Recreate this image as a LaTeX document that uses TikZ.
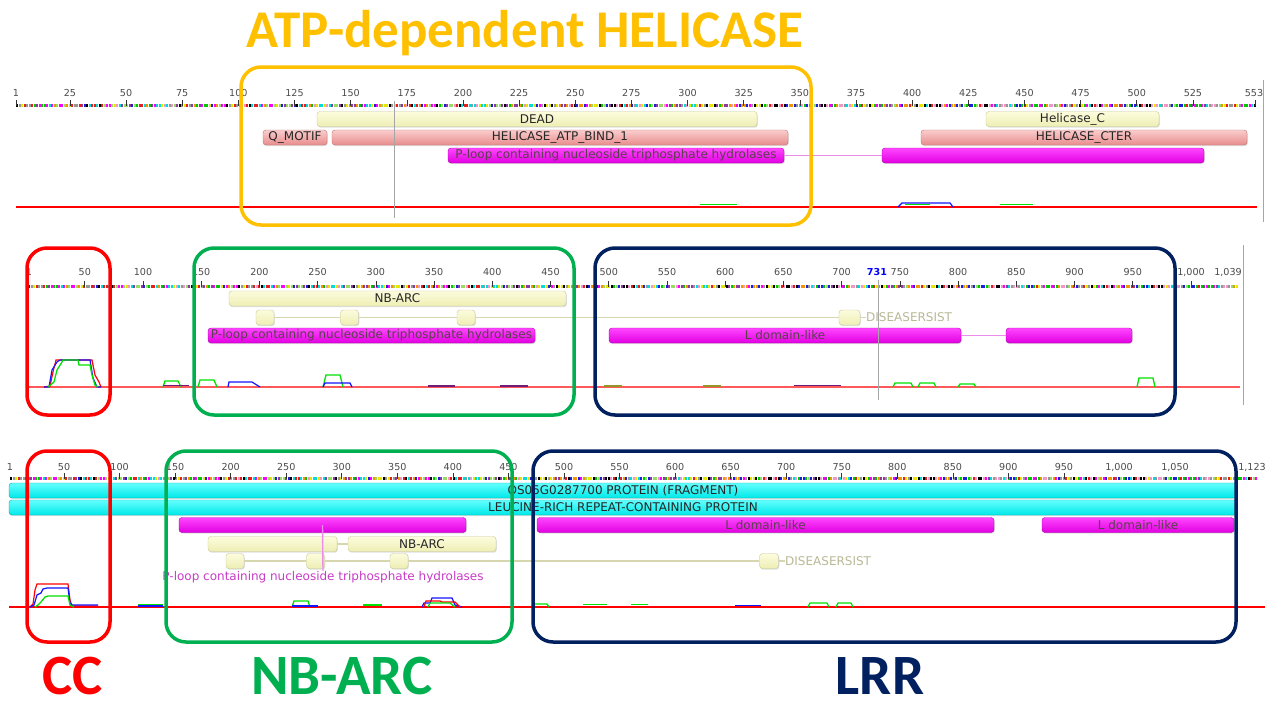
\documentclass[tikz,border=0pt]{standalone}
\usepackage{fontspec}
\setmainfont{DejaVu Sans}
\newfontfamily\barfont{DejaVu Sans}
\newfontfamily\slidefont{Carlito}
\usepackage{xcolor}
\definecolor{colorhel}{RGB}{255,192,0}
\definecolor{colorcc}{RGB}{255,0,0}
\definecolor{colornb}{RGB}{0,176,80}
\definecolor{colorlrr}{RGB}{0,32,96}
\definecolor{baryt}{RGB}{252,252,222}
\definecolor{baryb}{RGB}{238,238,180}
\definecolor{baryd}{RGB}{200,200,150}
\definecolor{barpt}{RGB}{250,205,205}
\definecolor{barpb}{RGB}{232,140,140}
\definecolor{barpd}{RGB}{190,115,115}
\definecolor{barmt}{RGB}{255,70,255}
\definecolor{barmb}{RGB}{225,0,225}
\definecolor{barmd}{RGB}{170,0,170}
\definecolor{barct}{RGB}{100,255,255}
\definecolor{barcb}{RGB}{0,232,232}
\definecolor{barcd}{RGB}{0,170,170}
\definecolor{linkm}{RGB}{235,140,235}
\definecolor{linky}{RGB}{215,215,175}
\definecolor{distxt}{RGB}{185,185,150}
\definecolor{plooptxt}{RGB}{200,60,200}
\definecolor{hydr}{RGB}{255,0,0}
\definecolor{hydg}{RGB}{0,225,0}
\definecolor{hydb}{RGB}{20,20,255}
\definecolor{hydp}{RGB}{110,30,120}
\definecolor{hydo}{RGB}{150,150,40}
\definecolor{seqc0}{RGB}{0,0,0}
\definecolor{seqc1}{RGB}{255,0,255}
\definecolor{seqc2}{RGB}{230,230,0}
\definecolor{seqc3}{RGB}{0,200,0}
\definecolor{seqc4}{RGB}{0,220,220}
\definecolor{seqc5}{RGB}{30,30,220}
\definecolor{seqc6}{RGB}{230,30,30}
\definecolor{seqc7}{RGB}{240,150,0}
\definecolor{seqc8}{RGB}{150,150,150}
\definecolor{seqc9}{RGB}{140,60,160}
\definecolor{seqc10}{RGB}{240,150,200}
\definecolor{seqc11}{RGB}{150,220,100}
\usepackage{tikz}
\usetikzlibrary{shadows}
\tikzstyle{featbar} = [rectangle, rounded corners=3pt, inner sep=0pt, minimum height=15pt, font=\barfont\fontsize{12}{12}\selectfont, text=black!85, drop shadow={opacity=0.25,shadow xshift=0.8pt,shadow yshift=-1.2pt}]
\tikzstyle{barY} = [featbar, draw=baryd, top color=baryt, bottom color=baryb]
\tikzstyle{barP} = [featbar, draw=barpd, top color=barpt, bottom color=barpb]
\tikzstyle{barM} = [featbar, draw=barmd, top color=barmt, bottom color=barmb, text=black!75!magenta]
\tikzstyle{barC} = [featbar, draw=barcd, top color=barct, bottom color=barcb]
\tikzstyle{sqY} = [barY, minimum width=18pt]
\tikzstyle{linkY} = [draw=linky, line width=1.2pt]
\tikzstyle{linkM} = [draw=linkm, line width=1.4pt]
\tikzstyle{disTxt} = [font=\barfont\fontsize{12}{12}\selectfont, text=distxt, inner sep=0pt]
\tikzstyle{ploopTxt} = [font=\barfont\fontsize{12}{12}\selectfont, text=plooptxt, inner sep=0pt]
\tikzstyle{rulerNum} = [font=\barfont\fontsize{9.6}{10}\selectfont, text=black!70, inner sep=0pt]
\tikzstyle{tick} = [draw=black!80, line width=0.6pt]
\tikzstyle{cursor} = [draw=black!35, line width=1pt]
\tikzstyle{baseR} = [draw=hydr, line width=1.5pt]
\tikzstyle{hydR} = [draw=hydr, line width=1.2pt]
\tikzstyle{hydG} = [draw=hydg, line width=1.3pt]
\tikzstyle{hydB} = [draw=hydb, line width=1.2pt]
\tikzstyle{hydP} = [draw=hydp, line width=1.5pt]
\tikzstyle{hydO} = [draw=hydo, line width=1.5pt]
\tikzstyle{frame} = [line width=3.5pt, rounded corners=20pt]
\tikzstyle{slideTitle} = [font=\slidefont\bfseries\fontsize{57}{57}\selectfont, inner sep=0pt, anchor=base, text depth=0pt]

\begin{document}
\begin{tikzpicture}[x=1pt,y=-1pt]
  \useasboundingbox (0,0) rectangle (1272,704);
  \fill[white] (0,0) rectangle (1272,704);

  % residue strips
  \foreach \xa/\xb/\yy in {16/1255/105.5,28/1236/286.5,10/1256/478.5}{
    \pgfmathtruncatemacro{\nn}{(\xb-\xa)/2.5}
    \foreach \i in {0,...,\nn}{
      \pgfmathtruncatemacro{\k}{mod(mod(\i,13)*mod(\i,13)*5+\i*3+int(\i/7),12)}
      \fill[seqc\k] ({\xa+\i*2.5},{\yy-1.5}) rectangle ++(2.2,3);
    }
  }

  % ruler 1
  \node[rulerNum] (ra1) at (16,93) {1};
  \draw[tick] (16,100) -- ++(0,6);
  \foreach \p in {25,50,...,525}{
    \node[rulerNum] (ra\p) at ({16+(\p-1)*2.246},93) {\p};
    \draw[tick] ({16+(\p-1)*2.246},100) -- ++(0,6);
  }
  \node[rulerNum] (ra553) at (1254,93) {553};
  \draw[tick] (1255,100) -- ++(0,6);

  % ruler 2
  \node[rulerNum] (rb1) at (29,272) {1};
  \foreach \p in {50,100,...,950}{
    \node[rulerNum] (rb\p) at ({27.7+(\p-1)*1.1644},272) {\p};
    \draw[tick] ({27.7+(\p-1)*1.1644},281) -- ++(0,6);
  }
  \node[rulerNum, text=blue, font=\barfont\bfseries\fontsize{9.6}{10}\selectfont] (rb731) at (877,272) {731};
  \node[rulerNum] (rb1000) at (1191,272) {1,000};
  \node[rulerNum] (rb1039) at (1228,272) {1,039};
  \draw[tick] (1191,281) -- ++(0,6);

  % ruler 3
  \node[rulerNum] (rc1) at (10,467) {1};
  \foreach \p in {50,100,...,950}{
    \node[rulerNum] (rc\p) at ({9.6+(\p-1)*1.111},467) {\p};
    \draw[tick] ({9.6+(\p-1)*1.111},473) -- ++(0,6);
  }
  \node[rulerNum] (rc1000) at (1119,467) {1,000};
  \node[rulerNum] (rc1050) at (1175,467) {1,050};
  \node[rulerNum] (rc1123) at (1252,467) {1,123};

  %helicase protein
  \node[barY, minimum width=440pt] (dead) at (537,119) {DEAD};
  \node[barY, minimum width=173pt] (helC) at (1072.5,119) {Helicase\_C};
  \node[barP, minimum width=64pt] (qmotif) at (295,137.5) {Q\_MOTIF};
  \node[barP, minimum width=456pt] (atpbind) at (560,137.5) {HELICASE\_ATP\_BIND\_1};
  \node[barP, minimum width=326pt] (cter) at (1084,137.5) {HELICASE\_CTER};
  \node[barM, minimum width=336pt] (ploopA) at (616,155.5) {P-loop containing nucleoside triphosphate hydrolases};
  \node[barM, minimum width=322pt] (ploopB) at (1043,155.5) {};
  \draw[linkM] (ploopA.east) -- (ploopB.west);

  \draw[baseR] (16,207) -- (1257,207);
  \draw[hydG] (700,204.5) -- (737,204.5);
  \draw[hydB] (898,207) -- (902,203) -- (950,203) -- (953,207);
  \draw[hydG] (905,204.5) -- (930,204.5);
  \draw[hydG] (1000,204.5) -- (1033,204.5);
  \draw[cursor] (394.5,101) -- (394.5,218);
  \draw[cursor] (1263,80) -- (1263,222);

  %NB-LRR protein 1
  \node[barY, minimum width=337pt] (nbarcA) at (397.5,298.5) {NB-ARC};
  \node[sqY] (sqA1) at (265,317.5) {};
  \node[sqY] (sqA2) at (349.5,317.5) {};
  \node[sqY] (sqA3) at (466,317.5) {};
  \node[sqY, minimum width=21pt] (disA) at (849.5,317.5) {};
  \node[disTxt, anchor=west] (disAlbl) at (866,317.5) {DISEASERSIST};
  \draw[linkY] (sqA1) -- (sqA2) -- (sqA3) -- (disA) -- (disAlbl);
  \node[barM, minimum width=327pt] (ploopC) at (371.5,335.5) {P-loop containing nucleoside triphosphate hydrolases};
  \node[barM, minimum width=352pt] (ldomA) at (785,335.5) {L domain-like};
  \node[barM, minimum width=126pt] (ldomB) at (1069,335.5) {};
  \draw[linkM] (ldomA.east) -- (ldomB.west);

  \draw[baseR, draw=hydr!65] (29,387) -- (1240,387);
  \draw[hydR] (44,387) -- (50,386) -- (53,372) -- (56,360) -- (92,360) -- (95,375) -- (99,382) -- (101,387);
  \draw[hydB] (44,387) -- (49,387) -- (52,370) -- (57,362) -- (60,360) -- (90,360) -- (93,378) -- (97,387) -- (101,387);
  \draw[hydG] (48,387) -- (54,382) -- (57,370) -- (62,362) -- (63,360) -- (78,360) -- (79,365) -- (90,365) -- (92,375) -- (95,385) -- (98,387);
  \draw[hydG] (163,387) -- (165,381) -- (178,381) -- (181,387);
  \draw[hydP] (163,385.5) -- (189,385.5);
  \draw[hydG] (198,387) -- (200,380) -- (214,380) -- (217,387);
  \draw[hydB] (228,387) -- (229,382) -- (252,382) -- (260,387);
  \draw[hydG] (323,387) -- (326,375) -- (340,375) -- (343,387);
  \draw[hydB] (323,387) -- (325,383) -- (350,383) -- (352,387);
  \draw[hydP] (428,386) -- (455,386);
  \draw[hydP] (500,386) -- (528,386);
  \draw[hydO] (604,386) -- (622,386);
  \draw[hydO] (703,386) -- (721,386);
  \draw[hydP] (794,385.5) -- (841,385.5);
  \draw[hydG] (893,387) -- (895,383) -- (911,383) -- (913,387);
  \draw[hydG] (918,387) -- (920,383) -- (934,383) -- (936,387);
  \draw[hydG] (958,387) -- (960,384) -- (974,384) -- (976,387);
  \draw[hydG] (1137,387) -- (1139,378) -- (1153,378) -- (1155,387);
  \draw[cursor] (878,280) -- (878,400);
  \draw[cursor] (1243,245) -- (1243,405);

  %NB-LRR protein 2
  \node[barC, minimum width=1228pt] (os05) at (623,490.5) {OS05G0287700 PROTEIN (FRAGMENT)};
  \node[barC, minimum width=1228pt] (lrrprot) at (623,507.5) {LEUCINE-RICH REPEAT-CONTAINING PROTEIN};
  \node[barM, minimum width=287pt] (ploopD) at (322.5,525) {};
  \node[barM, minimum width=457pt] (ldomC) at (765.5,525) {L domain-like};
  \node[barM, minimum width=192pt] (ldomD) at (1138,525) {L domain-like};
  \node[barY, minimum width=129pt] (nbarcB) at (272.5,544) {};
  \node[barY, minimum width=148pt] (nbarcC) at (422,544) {NB-ARC};
  \draw[linkY] (nbarcB) -- (nbarcC);
  \node[sqY] (sqB1) at (235,561) {};
  \node[sqY] (sqB2) at (315.5,561) {};
  \node[sqY] (sqB3) at (399,561) {};
  \node[sqY, minimum width=19pt] (disB) at (769,561) {};
  \node[disTxt, anchor=west] (disBlbl) at (785,561) {DISEASERSIST};
  \draw[linkY] (sqB1) -- (sqB2) -- (sqB3) -- (disB) -- (disBlbl);
  \node[ploopTxt] (ploopDlbl) at (323,577) {P-loop containing nucleoside triphosphate hydrolases};
  \draw[linkM] (ploopD.center) -- (ploopDlbl.north);

  \draw[baseR] (9,607) -- (1265,607);
  \draw[hydR] (30,607) -- (33,604) -- (35,590) -- (37,584) -- (68,584) -- (70,600) -- (72,606) -- (98,606);
  \draw[hydB] (30,607) -- (34,605) -- (37,595) -- (41,593) -- (43,589) -- (47,588) -- (68,588) -- (70,603) -- (72,605) -- (98,605);
  \draw[hydG] (35,607) -- (38,605) -- (41,602) -- (45,597) -- (48,596) -- (68,596) -- (70,605) -- (74,607);
  \draw[hydG] (138,604.5) -- (163,604.5);
  \draw[hydB] (138,606) -- (163,606);
  \draw[hydG] (292,607) -- (294,601) -- (308,601) -- (310,607);
  \draw[hydB, line width=1.5pt] (292,606) -- (318,606);
  \draw[hydG] (363,605) -- (382,605);
  \draw[hydB] (422,607) -- (424,603) -- (430,603) -- (432,598) -- (452,598) -- (455,605) -- (462,607);
  \draw[hydR] (424,607) -- (426,601) -- (440,601) -- (442,602) -- (455,602) -- (460,607);
  \draw[hydG] (428,607) -- (430,603) -- (450,603) -- (455,607);
  \draw[hydG] (532,607) -- (533,604) -- (547,604) -- (549,607);
  \draw[hydG, line width=1.5pt] (583,604.5) -- (607,604.5);
  \draw[hydG, line width=1.5pt] (631,604.5) -- (648,604.5);
  \draw[hydB, line width=1.5pt] (735,605.5) -- (761,605.5);
  \draw[hydG] (808,607) -- (810,603) -- (827,603) -- (829,607);
  \draw[hydG] (836,607) -- (838,603) -- (851,603) -- (853,607);

  % domain frames
  \draw[frame, colorhel] (241,67) rectangle (811,225);
  \draw[frame, colorcc] (27,248) rectangle (110,415);
  \draw[frame, colornb] (194,248) rectangle (574,415);
  \draw[frame, colorlrr] (595,248) rectangle (1175,415);
  \draw[frame, colorcc] (27,451) rectangle (110,642);
  \draw[frame, colornb] (166,451) rectangle (512,642);
  \draw[frame, colorlrr] (533,451) rectangle (1236,642);

  \node[slideTitle, text=colorhel, font=\slidefont\bfseries\fontsize{53}{53}\selectfont] (titleHel) at (525,47) {ATP-dependent HELICASE};
  \node[slideTitle, text=colorcc] (titleCC) at (73,694) {CC};
  \node[slideTitle, text=colornb] (titleNB) at (342,694) {NB-ARC};
  \node[slideTitle, text=colorlrr] (titleLRR) at (880,694) {LRR};
\end{tikzpicture}
\end{document}
